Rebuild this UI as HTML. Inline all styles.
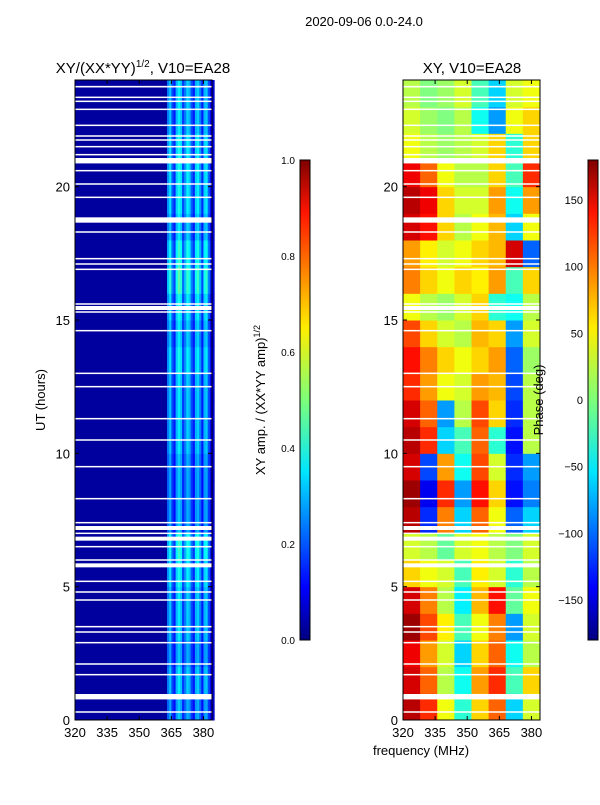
<!DOCTYPE html>
<html><head><meta charset="utf-8"><style>
body{margin:0;background:#fff;font-family:"Liberation Sans",sans-serif}
svg text{font-family:"Liberation Sans",sans-serif;fill:#000}
</style></head><body>
<svg id="fig" width="600" height="800" xmlns="http://www.w3.org/2000/svg">
<defs>
<linearGradient id="jet" x1="0" y1="1" x2="0" y2="0">
<stop offset="0" stop-color="#00007f"/><stop offset="0.11" stop-color="#0000ff"/><stop offset="0.35" stop-color="#00e5ff"/><stop offset="0.5" stop-color="#7dff7a"/><stop offset="0.65" stop-color="#ffee00"/><stop offset="0.89" stop-color="#ff1500"/><stop offset="1" stop-color="#7f0000"/>
</linearGradient>
</defs>
<text x="364" y="26" font-size="13" text-anchor="middle">2020-09-06 0.0-24.0</text>
<text x="143" y="73" font-size="15" text-anchor="middle">XY/(XX*YY)<tspan font-size="10" dy="-6">1/2</tspan><tspan dy="6">, V10=EA28</tspan></text>
<text x="472" y="73" font-size="15" text-anchor="middle">XY, V10=EA28</text>
<g id="left"></g>
<g id="right"></g>
<g id="axes"></g>
<text transform="translate(45,400) rotate(-90)" font-size="13" text-anchor="middle">UT (hours)</text>
<text x="421" y="755" font-size="13" text-anchor="middle">frequency (MHz)</text>
<rect x="300" y="160" width="10" height="480" fill="url(#jet)" stroke="#000" stroke-width="1"/>
<rect x="588" y="160" width="10" height="480" fill="url(#jet)" stroke="#000" stroke-width="1"/>
<text transform="translate(265,400) rotate(-90)" font-size="13" text-anchor="middle">XY amp. / (XX*YY amp)<tspan font-size="9" dy="-5">1/2</tspan></text>
<text transform="translate(543,400) rotate(-90)" font-size="13" text-anchor="middle">Phase (deg)</text>
</svg>
<script>
const gapHours=[23.75,23.35,23.2,22.9,22.3,21.9,21.75,21.5,21.2,21.0,20.9,20.6,20.1,19.6,18.75,18.3,17.3,17.1,16.9,15.6,15.45,15.3,14.6,13.0,12.5,11.3,10.5,9.5,8.3,7.4,7.2,7.0,6.8,6.5,6.0,5.8,5.2,4.8,4.5,3.5,3.3,2.9,2.1,1.7,0.9,0.8,0.3];
const gapWidths=[0.06,0.05,0.05,0.05,0.05,0.05,0.05,0.05,0.05,0.15,0.05,0.05,0.05,0.05,0.2,0.05,0.05,0.05,0.05,0.05,0.15,0.05,0.05,0.05,0.05,0.05,0.05,0.05,0.05,0.05,0.15,0.05,0.15,0.05,0.05,0.15,0.05,0.05,0.05,0.05,0.05,0.05,0.05,0.05,0.15,0.05,0.05];
const ampChanProfile=[0.25,0.32,0.2,0.15,0.3,0.36,0.32,0.18,0.25,0.33,0.3,0.2,0.15,0.3,0.33,0.25,0.15,0.3,0.32,0.2,0.12,0.08];
const ampHourFactor=[0.9,1,0.9,1,1,1.1,1.2,0.9,0.9,0.9,1,1,1,1.1,1,1.1,1.3,1.2,1,1.1,1.1,1.1,1,1];
const ampBackground=0.03;
const phaseGrid=[
[160,120,40,-30,60,100,-60,30],[150,100,20,-40,80,120,-20,60],[140,80,30,-60,60,100,-40,20],[170,110,50,-20,40,90,-80,30],
[150,90,20,-50,70,130,-10,40],[60,40,30,-20,50,30,-30,20],[30,20,-10,30,40,20,0,30],[160,-120,90,-60,100,40,-100,-60],
[170,-140,120,-80,130,60,-130,-90],[150,-110,80,-40,110,30,-120,-80],[160,120,-60,-20,100,-30,-130,20],[150,100,-80,20,110,60,-120,20],
[120,80,40,30,80,70,-110,20],[130,90,60,40,60,80,-100,10],[110,60,30,20,70,60,-80,30],[40,20,10,30,60,-30,-40,20],
[90,60,40,60,50,80,-20,60],[80,50,30,40,60,70,150,-100],[150,130,60,20,40,70,-60,40],[160,140,60,30,30,80,-40,80],
[140,100,40,20,20,60,-20,120],[40,20,10,20,30,60,-30,60],[30,10,0,20,-40,-80,40,60],[20,0,10,30,-20,-60,30,40]];
const xTicks=[320,335,350,365,380];
const yTicks=[0,5,10,15,20];
const ampTicks=[0.0,0.2,0.4,0.6,0.8,1.0];
const phaseTicks=[-150,-100,-50,0,50,100,150];

const NS="http://www.w3.org/2000/svg";
const y0=720,y1=80;
const yS=h=>y0-(h/24)*(y0-y1);
const xL=f=>75+(f-320)/64*137;
const xR=f=>403+(f-320)/64*137;
function jet(v){v=Math.max(0,Math.min(1,v));
 const r=Math.max(0,Math.min(1,1.5-Math.abs(4*v-3))),g=Math.max(0,Math.min(1,1.5-Math.abs(4*v-2))),b=Math.max(0,Math.min(1,1.5-Math.abs(4*v-1)));
 return `rgb(${Math.round(r*255)},${Math.round(g*255)},${Math.round(b*255)})`;}
function R(p,x,y,w,h,fill){const r=document.createElementNS(NS,'rect');r.setAttribute('x',x);r.setAttribute('y',y);r.setAttribute('width',w);r.setAttribute('height',h);r.setAttribute('fill',fill);p.appendChild(r);return r;}
function T(p,x,y,s,anchor,size){const t=document.createElementNS(NS,'text');t.setAttribute('x',x);t.setAttribute('y',y);t.setAttribute('text-anchor',anchor);t.setAttribute('font-size',size);t.textContent=s;p.appendChild(t);return t;}
function L(p,x1,y1_,x2,y2){const l=document.createElementNS(NS,'line');l.setAttribute('x1',x1);l.setAttribute('y1',y1_);l.setAttribute('x2',x2);l.setAttribute('y2',y2);l.setAttribute('stroke','#000');l.setAttribute('stroke-width',1);p.appendChild(l);return l;}
const left=document.getElementById('left'),right=document.getElementById('right'),axes=document.getElementById('axes');
for(let h=0;h<24;h++){
 const c=R(left,xL(320),yS(h+1),xL(363)-xL(320)+0.5,yS(h)-yS(h+1)+0.5,jet(ampBackground));
 
 
 for(let i=0;i<ampChanProfile.length;i++){
  const f=363+i;
  const cell=R(left,xL(f),yS(h+1),xL(f+1)-xL(f)+0.5,yS(h)-yS(h+1)+0.5,jet(ampChanProfile[i]*ampHourFactor[h]));
  
  
 }
}
for(let h=0;h<24;h++)for(let j=0;j<8;j++){
 const f=320+j*8;
 const cell=R(right,xR(f),yS(h+1),xR(f+8)-xR(f)+0.5,yS(h)-yS(h+1)+0.5,jet((phaseGrid[h][j]+180)/360));
 
 
}
gapHours.forEach((g,i)=>{
 const hh=Math.max(1.5,(gapWidths[i]/24)*640);
 const a=R(left,75,yS(g)-hh/2,137,hh,'#fff');
 
 
 const b=R(right,403,yS(g)-hh/2,137,hh,'#fff');
 
 
});
[75,403].forEach((x0,k)=>{
 const fr=R(axes,x0,80,137,640,'none');fr.setAttribute('stroke','#000');
 
 
 const xs=k?xR:xL;
 xTicks.forEach(v=>{const x=xs(v);L(axes,x,720,x,716);L(axes,x,80,x,84);
  const t=T(axes,x,737,String(v),'middle',13);
  
  });
 yTicks.forEach(v=>{const y=yS(v);L(axes,x0,y,x0+4,y);L(axes,x0+137,y,x0+133,y);
  const t=T(axes,x0-5,y+5,String(v),'end',13);
  
  });
});
ampTicks.forEach(v=>{const y=640-v*480;L(axes,300,y,303,y);L(axes,310,y,307,y);
 const t=T(axes,295,y+4,v.toFixed(1),'end',10);
 
 });
phaseTicks.forEach(v=>{const y=400-v*(480/360);L(axes,588,y,591,y);L(axes,598,y,595,y);
 const t=T(axes,583,y+4,v<0?'\u2212'+(-v):String(v),'end',11);
 
 });
</script>
</body></html>
